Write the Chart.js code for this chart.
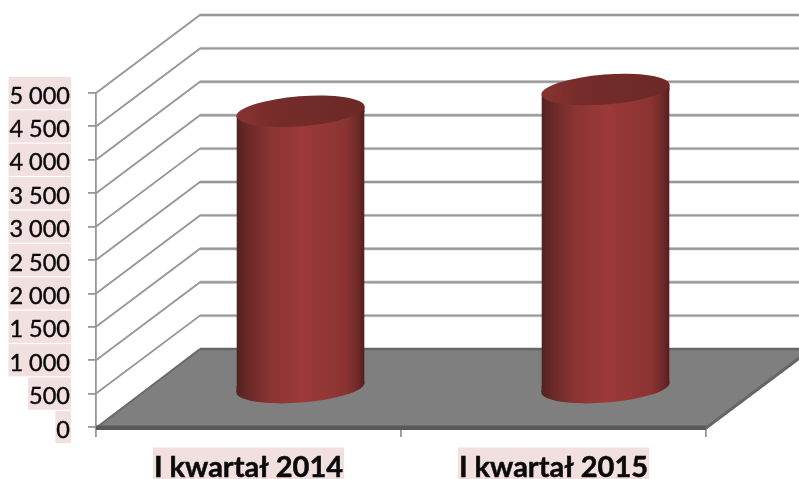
<!DOCTYPE html>
<html><head><meta charset="utf-8">
<style>html,body{margin:0;padding:0;background:#fff}canvas{display:block}</style>
<script src="https://cdn.jsdelivr.net/npm/chart.js@4"></script>
</head><body><canvas id="c" width="799" height="479"></canvas>
<script>
const categories = ['I kwartał 2014', 'I kwartał 2015'];
const values = [4150, 4475];
const yMax = 5000;
const yStep = 500;

const wallDx = 104, wallDy = -78, barDx = 52, barDy = -38.5;
const tilt = -4.5 * Math.PI / 180, capRy = 15, capDrop = 4.75;

function sideGradient(c, x, w) {
  const g = c.createLinearGradient(x - w / 2, 0, x + w / 2, 0);
  g.addColorStop(0, '#54211f'); g.addColorStop(0.1, '#6c2a28');
  g.addColorStop(0.26, '#8a3432'); g.addColorStop(0.5, '#9c3a38');
  g.addColorStop(0.85, '#8b3432'); g.addColorStop(0.95, '#6d2a28'); g.addColorStop(1, '#4e1f1e');
  return g;
}
function capGradient(c, x, w) {
  const g = c.createLinearGradient(x - w / 2, 0, x + w / 2, 0);
  g.addColorStop(0, '#8a3331'); g.addColorStop(0.3, '#752c2a'); g.addColorStop(1, '#6c2927');
  return g;
}
function ellipse(c, x, y, w) {
  c.beginPath(); c.ellipse(x, y, w / 2 + 0.2, capRy, tilt, 0, Math.PI * 2); c.closePath();
}
const scene = {
  id: 'scene',
  beforeDraw(chart) {
    if (chart.$shifted) return;
    chart.$shifted = true;
    chart.scales.y.getLabelItems().forEach(i => { i.textOffset += 3; });
    chart.scales.x.getLabelItems().forEach(i => { i.textOffset += 4; });
  },
  beforeDatasetsDraw(chart) {
    const c = chart.ctx, { x: xs, y: ys } = chart.scales;
    const L = xs.left, R = xs.right, W = chart.width;
    c.save();
    ys.ticks.forEach(t => {
      const y = ys.getPixelForValue(t.value);
      if (t.value === 0) return;
      c.strokeStyle = '#d6d6d6'; c.lineWidth = 3.4;
      c.beginPath(); c.moveTo(L + wallDx, y + wallDy); c.lineTo(W, y + wallDy); c.stroke();
      c.strokeStyle = '#979797'; c.lineWidth = 1.9;
      c.beginPath(); c.moveTo(L, y); c.lineTo(L + wallDx, y + wallDy); c.lineTo(W, y + wallDy); c.stroke();
    });
    const y0 = ys.getPixelForValue(0);
    c.lineJoin = 'round';
    c.beginPath(); c.moveTo(L, y0); c.lineTo(L + wallDx, y0 + wallDy); c.lineTo(R + wallDx, y0 + wallDy); c.lineTo(R, y0); c.closePath();
    c.fillStyle = '#7f7f7f'; c.fill();
    c.strokeStyle = '#666666'; c.lineWidth = 2.4;
    c.beginPath(); c.moveTo(L + wallDx, y0 + wallDy); c.lineTo(R + wallDx, y0 + wallDy); c.stroke();
    c.lineWidth = 3;
    c.beginPath(); c.moveTo(R, y0 + 1); c.lineTo(R + wallDx, y0 + wallDy + 1); c.stroke();
    c.strokeStyle = '#6a6a6a'; c.lineWidth = 2;
    c.beginPath(); c.moveTo(L, y0 + 1); c.lineTo(L + wallDx, y0 + wallDy); c.stroke();
    c.fillStyle = '#595959'; c.fillRect(L, y0 - 1.5, R - L, 4.5);
    c.restore();
  },
  beforeDatasetDraw(chart, args) {
    const c = chart.ctx;
    c.save();
    c.translate(barDx, barDy);
    args.meta.data.forEach(b => {
      const l = b.x - b.width / 2, r = b.x + b.width / 2;
      c.fillStyle = sideGradient(c, b.x, b.width);
      ellipse(c, b.x, b.base, b.width); c.fill();
      // wedges that join the flat bar ends to the tilted ellipses
      c.beginPath();
      c.moveTo(l, b.base - 1); c.lineTo(b.x, b.base - 1); c.lineTo(b.x, b.base); c.lineTo(l, b.base + capDrop); c.closePath(); c.fill();
      c.beginPath();
      c.moveTo(r, b.y + 1); c.lineTo(b.x, b.y + 1); c.lineTo(b.x, b.y); c.lineTo(r, b.y - capDrop); c.closePath(); c.fill();
    });
    c.beginPath();
    args.meta.data.forEach(b => {
      c.moveTo(b.x - b.width / 2, b.y + capDrop); c.lineTo(b.x + b.width / 2, b.y - capDrop);
      c.lineTo(b.x + b.width / 2, b.base - capDrop); c.lineTo(b.x - b.width / 2, b.base + capDrop); c.closePath();
    });
    c.clip();
  },
  afterDatasetDraw(chart, args) {
    const c = chart.ctx;
    c.restore();
    c.save();
    c.translate(barDx, barDy);
    args.meta.data.forEach(b => {
      c.fillStyle = capGradient(c, b.x, b.width);
      ellipse(c, b.x, b.y, b.width); c.fill();
    });
    c.restore();
  }
};

new Chart(document.getElementById('c'), {
  type: 'bar',
  data: { labels: categories, datasets: [{
    data: values,
    clip: false,
    borderWidth: 0,
    barPercentage: 0.42,
    categoryPercentage: 1,
    backgroundColor(ctx) {
      const ch = ctx.chart;
      if (!ch.chartArea) return '#9c3a38';
      const el = ch.getDatasetMeta(0).data[ctx.dataIndex];
      const w = (el && el.width) || 128;
      return sideGradient(ch.ctx, ch.scales.x.getPixelForValue(ctx.dataIndex), w);
    }
  }]},
  plugins: [scene],
  options: {
    responsive: false, animation: false, events: [],
    layout: { padding: { top: 93, right: 93, left: 0, bottom: 0 } },
    plugins: { legend: { display: false }, title: { display: false }, tooltip: { enabled: false } },
    scales: {
      x: {
        offset: true,
        afterFit(s) { s.height = 52; },
        grid: { offset: true, drawOnChartArea: false, drawTicks: true, tickLength: 10, color: '#979797', lineWidth: 1.8 },
        border: { display: true, color: '#979797', width: 1.8 },
        ticks: { color: '#0a0a0a', font: { family: 'Lato', size: 29, weight: 'bold', lineHeight: 1 }, padding: 12, autoSkip: false, maxRotation: 0,
          textStrokeColor: '#0a0a0a', textStrokeWidth: 0.5,
          showLabelBackdrop: true, backdropColor: '#f2dfdf', backdropPadding: { x: 1, y: 1.5 } }
      },
      y: {
        min: 0, max: yMax,
        afterFit(s) { s.width = 96; },
        grid: { drawOnChartArea: false, drawTicks: true, tickLength: 8, color: '#979797', lineWidth: 1.8 },
        border: { display: true, color: '#979797', width: 1.8 },
        ticks: { stepSize: yStep, color: '#0a0a0a', font: { family: 'Lato', size: 23.5 }, padding: 18,
          textStrokeColor: '#0a0a0a', textStrokeWidth: 0.4,
          callback(v) { return String(v).replace(/\B(?=(\d{3})+$)/g, ' '); },
          showLabelBackdrop: true, backdropColor: '#f2dfdf', backdropPadding: { x: 1, y: 2 } }
      }
    }
  }
});
</script></body></html>
